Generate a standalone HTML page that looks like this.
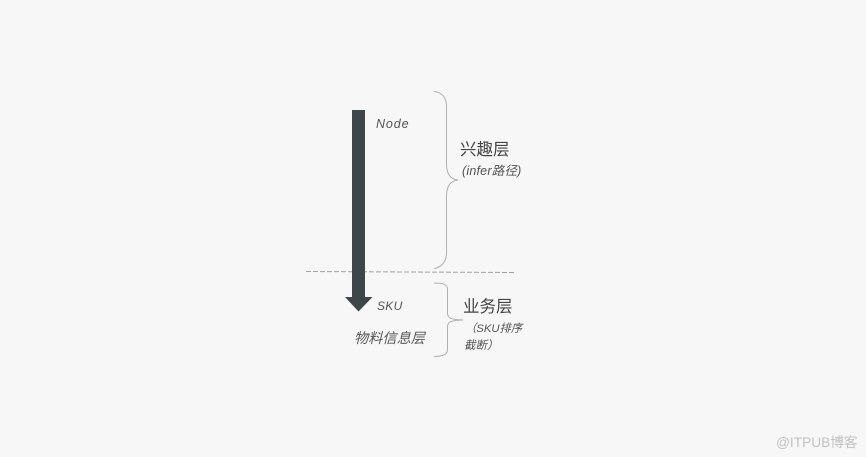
<!DOCTYPE html>
<html lang="zh">
<head>
<meta charset="utf-8">
<style>
html,body{margin:0;padding:0;background:#f7f7f7;}
body{width:866px;height:457px;overflow:hidden;position:relative;}
svg{position:absolute;left:0;top:0;}
text{font-family:"Liberation Sans","Noto Sans CJK SC",sans-serif;}
</style>
</head>
<body>
<svg width="866" height="457" viewBox="0 0 866 457" xmlns="http://www.w3.org/2000/svg">
<rect width="866" height="457" fill="#f7f7f7"/>
<!-- dashed divider -->
<line x1="306" y1="271.500" x2="514" y2="272.500" stroke="#a3a3a3" stroke-width="1" stroke-dasharray="5 2"/>
<!-- arrow -->
<path d="M352 110H365V297H372.500L358.500 311.500L345 297H352Z" fill="#3e4649"/>
<!-- big brace -->
<path d="M434 91.500C441 92 446.500 97 446.500 106V164C446.500 173 450 179.500 458 180C450 181 446.500 187 446.500 196V253C446.500 262 441 267.500 434 268.500" fill="none" stroke="#b0b0b0" stroke-width="1"/>
<!-- small brace -->
<path d="M434 283C441 283 447.500 283.500 447.500 289V313C447.500 318 450 319.500 463 320C450 320.500 447.500 322 447.500 327V350C447.500 355.500 441 356.500 434 356.500" fill="none" stroke="#b0b0b0" stroke-width="1"/>
<!-- labels -->
<text x="376" y="128" font-size="12.500" font-style="italic" fill="#555" letter-spacing=".9">Node</text>
<text x="460" y="155" font-size="16.500" fill="#444">兴趣层</text>
<text x="462" y="175" font-size="12.500" font-style="italic" fill="#555" letter-spacing=".2">(infer路径)</text>
<text x="377" y="310" font-size="12" font-style="italic" fill="#555" letter-spacing=".3">SKU</text>
<text x="354" y="343" font-size="14.200" font-style="italic" fill="#555">物料信息层</text>
<text x="463" y="312" font-size="16.500" fill="#444">业务层</text>
<text x="465" y="332" font-size="11.300" font-style="italic" fill="#555">（SKU排序</text>
<text x="464" y="349" font-size="11.500" font-style="italic" fill="#555">截断）</text>
<text x="776" y="447" font-size="13.700" fill="#c2c2c2">@ITPUB博客</text>
</svg>
</body>
</html>
